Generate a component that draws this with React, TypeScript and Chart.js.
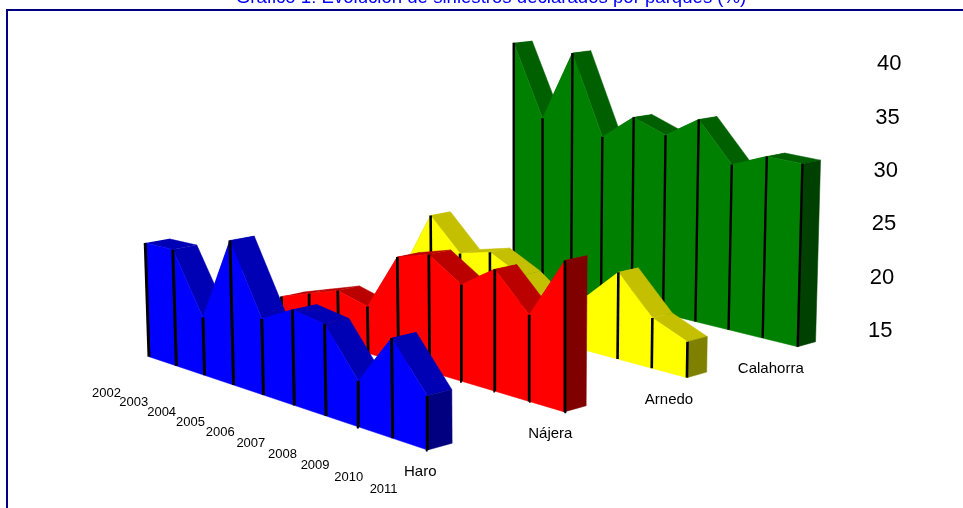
import React, { useEffect, useRef } from "react";
import { Chart, registerables } from "chart.js";

Chart.register(...registerables);

const years = ["2002", "2003", "2004", "2005", "2006", "2007", "2008", "2009", "2010", "2011"];
const seriesNames = ["Haro", "Nájera", "Arnedo", "Calahorra"];
const valueTicks = [15, 20, 25, 30, 35, 40];
const haro = [25.1, 25.2, 20.0, 27.3, 21.4, 22.9, 22.5, 18.7, 22.9, 19.2];
const najera = [17.9, 18.9, 19.9, 19.2, 24.3, 25.2, 23.3, 25.3, 22.2, 27.4];
const arnedo = [18.1, 24.0, 21.0, 21.8, 20.3, 18.0, 19.7, 22.7, 19.4, 18.1];
const calahorra = [38.9, 31.7, 38.7, 30.9, 33.3, 32.1, 34.1, 30.4, 31.7, 31.6];
const allSeries = [haro, najera, arnedo, calahorra];
const frontColors = ["#0000ff", "#ff0000", "#ffff00", "#008000"];
const topColors = ["#0000b4", "#bb0000", "#c4c000", "#006000"];
const sideColors = ["#000080", "#800000", "#808000", "#004000"];
const labelShiftX = [0, 0, 2.5, 0];

const BASE = 15;
const UNIT = 11.25;
const DEPTH = 0.057;
const G = -0.1283, H = 0.1485;
const A = 223.8, B = 441, C = 149, D = 35.6, E = -38.6, F = 356.7;

// perspective projection: u along years (0..1), v across series (0..1), value upward
function project(u: number, v: number, value: number) {
  const q = 1 / (G * u + H * v + 1);
  const bx = (A * u + B * v + C) * q;
  const by = (D * u + E * v + F) * q;
  const h = (value - BASE) * UNIT * q;
  return { x: bx + (h * (bx - 513)) / 11000, y: by - h };
}

function poly(points: { x: number; y: number }[], color: string) {
  return {
    data: points,
    showLine: true,
    fill: "shape",
    backgroundColor: color,
    borderColor: color,
    borderWidth: 0.5,
    pointRadius: 0,
    tension: 0,
  };
}

function buildDatasets() {
  const painter: any[] = [];
  for (let s = allSeries.length - 1; s >= 0; s--) {
    const vals = allSeries[s];
    const v0 = s / 3;
    const v1 = v0 + DEPTH;
    const n = vals.length;
    const U = (i: number) => i / (n - 1);
    for (let i = 0; i < n - 1; i++) {
      painter.push(
        poly(
          [
            project(U(i), v0, vals[i]),
            project(U(i + 1), v0, vals[i + 1]),
            project(U(i + 1), v1, vals[i + 1]),
            project(U(i), v1, vals[i]),
          ],
          topColors[s]
        )
      );
    }
    painter.push(
      poly(
        [
          project(1, v0, BASE),
          project(1, v1, BASE),
          project(1, v1, vals[n - 1]),
          project(1, v0, vals[n - 1]),
        ],
        sideColors[s]
      )
    );
    const front = [project(0, v0, BASE), project(1, v0, BASE)];
    for (let i = n - 1; i >= 0; i--) front.push(project(U(i), v0, vals[i]));
    painter.push(poly(front, frontColors[s]));
    for (let i = 0; i < n; i++) {
      painter.push({
        data: [project(U(i), v0, BASE), project(U(i), v0, vals[i])],
        showLine: true,
        fill: false,
        borderColor: "#000000",
        borderWidth: 3 - s * 0.2,
        pointRadius: 0,
      });
    }
  }
  return painter.reverse();
}

const textPlugin = {
  id: "textPlugin",
  afterDatasetsDraw(chart: any) {
    const { ctx, scales } = chart;
    const px = (p: { x: number; y: number }) => ({ x: scales.x.getPixelForValue(p.x), y: scales.y.getPixelForValue(p.y) });
    ctx.save();
    ctx.strokeStyle = "#000080";
    ctx.lineWidth = 2;
    ctx.beginPath();
    ctx.moveTo(7, 508);
    ctx.lineTo(7, 10);
    ctx.lineTo(963, 10);
    ctx.stroke();

    ctx.textAlign = "center";
    ctx.textBaseline = "alphabetic";
    ctx.fillStyle = "#0000ff";
    ctx.font = "18.6px 'Liberation Sans'";
    ctx.fillText("Gráfico 1: Evolución de siniestros declarados por parques (%)", 491, 3);

    ctx.textBaseline = "middle";
    ctx.fillStyle = "#000000";
    ctx.font = "13px 'Liberation Sans'";
    years.forEach((y, i) => {
      const p = px(project(i / (years.length - 1), -0.1, BASE));
      ctx.fillText(y, p.x, p.y + 27);
    });
    ctx.font = "15px 'Liberation Sans'";
    seriesNames.forEach((name, s) => {
      const p = px(project(1, s / 3, BASE));
      ctx.fillText(name, p.x - 7.4 - 6.5 * s + labelShiftX[s], p.y + 22);
    });
    ctx.font = "22px 'Liberation Sans'";
    valueTicks.forEach((t) => {
      const p = px(project(1.02, 1.25, t));
      ctx.fillText(String(t), p.x, p.y + 4);
    });
    ctx.restore();
  },
};

export default function App() {
  const ref = useRef<HTMLCanvasElement>(null);
  useEffect(() => {
    const chart = new Chart(ref.current as HTMLCanvasElement, {
      type: "scatter",
      data: { datasets: buildDatasets() },
      options: {
        animation: false,
        responsive: false,
        layout: { padding: 0 },
        plugins: { legend: { display: false }, tooltip: { enabled: false }, title: { display: false } },
        scales: {
          x: { type: "linear", min: 0, max: 963, display: false },
          y: { type: "linear", min: 0, max: 508, reverse: true, display: false },
        },
      },
      plugins: [textPlugin],
    } as any);
    return () => chart.destroy();
  }, []);
  return (
    <div style={{ position: "fixed", left: 0, top: 0, width: 963, height: 508, background: "#ffffff" }}>
      <canvas ref={ref} width={963} height={508} style={{ display: "block" }} />
    </div>
  );
}
